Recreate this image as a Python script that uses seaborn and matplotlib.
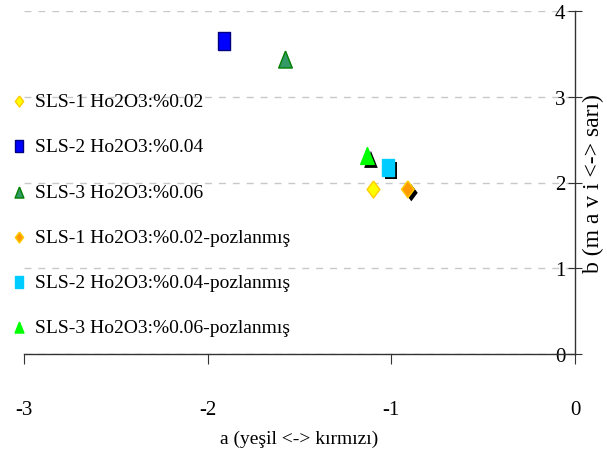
import matplotlib
matplotlib.use('Agg')
import matplotlib.pyplot as plt
import matplotlib.patheffects as pe
import seaborn as sns
import pandas as pd

# a* / b* values
labels = ['SLS-1 Ho2O3:%0.02', 'SLS-2 Ho2O3:%0.04', 'SLS-3 Ho2O3:%0.06',
          'SLS-1 Ho2O3:%0.02-pozlanmış', 'SLS-2 Ho2O3:%0.04-pozlanmış',
          'SLS-3 Ho2O3:%0.06-pozlanmış']
a_vals = [-1.10, -1.91, -1.58, -0.91, -1.02, -1.13]
b_vals = [1.92, 3.65, 3.44, 1.92, 2.18, 2.31]
face_colors = ['#FFFF00', '#0000FF', '#339966', '#FF9900', '#00CCFF', '#00FF00']
edge_colors = ['#FFCC00', '#000080', '#008000', '#FFCC00', '#00CCFF', '#00FF00']

# tall shapes (the original picture is stretched vertically)
diamond = [(0, 1), (0.75, 0), (0, -1), (-0.75, 0), (0, 1)]
square = [(-0.7, -1), (0.7, -1), (0.7, 1), (-0.7, 1), (-0.7, -1)]
triangle = [(0, 1), (0.8, -1), (-0.8, -1), (0, 1)]
shapes = [diamond, square, triangle, diamond, square, triangle]
shadow = [False, False, False, True, True, True]

df = pd.DataFrame({'a': a_vals, 'b': b_vals, 'seri': labels})

plt.rcParams['font.family'] = ['Liberation Serif', 'DejaVu Serif']
fig = plt.figure(figsize=(6.07, 4.64), dpi=100)
ax = fig.add_axes([24 / 607, 1 - 355 / 464, 551 / 607, 343 / 464])

for i, lab in enumerate(labels):
    sns.scatterplot(data=df[df['seri'] == lab], x='a', y='b', ax=ax,
                    marker=shapes[i], s=150, color=face_colors[i],
                    edgecolor=edge_colors[i], linewidth=1, label=lab, zorder=3)
    if shadow[i]:
        ax.collections[-1].set_path_effects([
            pe.SimplePatchShadow(offset=(2.5, -2.5), shadow_rgbFace='black', alpha=1),
            pe.Normal()])

ax.set_xlim(-3, 0)
ax.set_ylim(0, 4)
ax.set_xticks([-3, -2, -1, 0])
ax.set_yticks([0, 1, 2, 3, 4])
ax.set_xticklabels(['-3', '-2', '-1', '0'])

ax.spines['top'].set_visible(False)
ax.spines['right'].set_visible(False)
ax.spines['left'].set_position(('data', 0))
for sp in ['left', 'bottom']:
    ax.spines[sp].set_color('#333333')
    ax.spines[sp].set_linewidth(1)

ax.yaxis.grid(True, linestyle=(0, (5, 5)), color='#c8c8c8', linewidth=1)
ax.set_axisbelow(True)

ax.tick_params(axis='x', direction='out', length=7, pad=26, labelsize=15, color='#333333')
ax.tick_params(axis='y', direction='inout', length=10, pad=2, labelsize=15, color='#333333')

ax.set_xlabel('a (yeşil <-> kırmızı)', fontsize=14, labelpad=8)
ax.yaxis.set_label_position('right')
ax.set_ylabel('b (m a v i <-> sarı)', fontsize=17, labelpad=6)

leg = ax.legend(loc='upper left', bbox_to_anchor=(0.0, 0.815), bbox_transform=fig.transFigure,
                frameon=False, fontsize=14, labelspacing=1.42, handletextpad=0.2,
                markerscale=0.65, borderaxespad=0, handlelength=1.2)
for h in leg.legend_handles:
    h.set_path_effects([])

fig.savefig('out.png', dpi=100)
